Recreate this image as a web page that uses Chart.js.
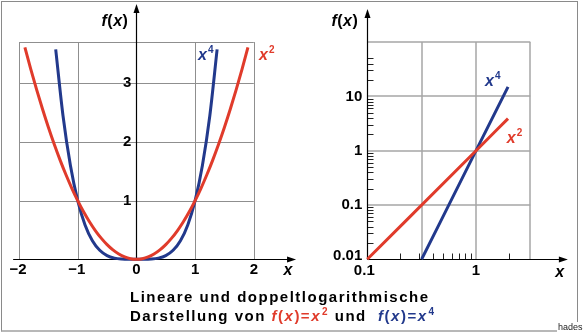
<!DOCTYPE html>
<html lang="de">
<head>
<meta charset="UTF-8">
<title>Lineare und doppeltlogarithmische Darstellung</title>
<script src="https://cdn.jsdelivr.net/npm/chart.js@4"></script>
<style>
  * { margin: 0; padding: 0; box-sizing: border-box; }
  body { width: 588px; height: 333px; background: #fff; position: relative; overflow: hidden;
         font-family: 'Liberation Sans', Arial, sans-serif; }
  #left { position: absolute; left: 0; top: 0; }
  #right { position: absolute; left: 300px; top: 0; }
  .frame { position: absolute; left: 1px; top: 1px; width: 577px; height: 331px;
           border: 1px solid #8a8a8a; border-bottom: 2px solid #b8b8b8; }
  .hades { position: absolute; left: 557px; top: 322px; font-size: 9px; background: #fff;
           color: #222; padding: 0 1px; line-height: 10px; }
  .title { position: absolute; left: 130px; font-size: 15px; font-weight: bold; letter-spacing: 1.5px;
           color: #000; white-space: pre; line-height: 17px; }
  .t1 { top: 288px; }
  .t2 { top: 307px; }
  .red { color: #e03b2b; }
  .blue { color: #22398c; }
  i { font-style: italic; }
  sup { font-size: 10px; vertical-align: 6px; line-height: 0; margin-left: 1px; }
</style>
</head>
<body>
<canvas id="left" width="300" height="290"></canvas>
<canvas id="right" width="288" height="290"></canvas>
<div class="frame"></div>
<div class="title t1">Lineare und doppeltlogarithmische</div>
<div class="title t2">Darstellung von <span class="red"><i>f</i>(<i>x</i>)=<i>x</i><sup>2</sup></span> und  <span class="blue"><i>f</i>(<i>x</i>)=<i>x</i><sup>4</sup></span></div>
<div class="hades">hades</div>

<script>
// values
const squareX = [-1.9, -1.8, -1.7, -1.6, -1.5, -1.4, -1.3, -1.2, -1.1, -1.0, -0.9, -0.8, -0.7, -0.6, -0.5, -0.4, -0.3, -0.2, -0.1, 0,
                 0.1, 0.2, 0.3, 0.4, 0.5, 0.6, 0.7, 0.8, 0.9, 1.0, 1.1, 1.2, 1.3, 1.4, 1.5, 1.6, 1.7, 1.8, 1.9];
const squareY = [3.61, 3.24, 2.89, 2.56, 2.25, 1.96, 1.69, 1.44, 1.21, 1.0, 0.81, 0.64, 0.49, 0.36, 0.25, 0.16, 0.09, 0.04, 0.01, 0,
                 0.01, 0.04, 0.09, 0.16, 0.25, 0.36, 0.49, 0.64, 0.81, 1.0, 1.21, 1.44, 1.69, 1.96, 2.25, 2.56, 2.89, 3.24, 3.61];
const quarticX = [-1.375, -1.25, -1.125, -1.0, -0.875, -0.75, -0.625, -0.5, -0.375, -0.25, -0.125, 0,
                  0.125, 0.25, 0.375, 0.5, 0.625, 0.75, 0.875, 1.0, 1.125, 1.25, 1.375];
const quarticY = [3.575, 2.441, 1.602, 1.0, 0.586, 0.316, 0.153, 0.063, 0.020, 0.004, 0.0002, 0,
                  0.0002, 0.004, 0.020, 0.063, 0.153, 0.316, 0.586, 1.0, 1.602, 2.441, 3.575];

const logSquareX = [0.1, 1, 1.97];
const logSquareY = [0.01, 1, 3.9];
const logQuarticX = [0.316, 1, 1.97];
const logQuarticY = [0.01, 1, 15];

// ticks and grid
const linXTicks = [-2, -1, 0, 1, 2];
const linXLabels = ['\u22122', '\u22121', '0', '1', '2'];
const linYTicks = [1, 2, 3];
const linGridX = [-2, -1, 1, 2];
const linGridY = [1, 2, 3, 3.7];

const logXTicks = [0.1, 1];
const logXLabels = ['0.1', '1'];
const logYTicks = [0.01, 0.1, 1, 10];
const logYLabels = ['0.01', '0.1', '1', '10'];
const logGridX = [0.316, 1, 3.16];
const logGridY = [0.1, 1, 10, 100];
const logXMinor = [0.2, 0.3, 0.4, 0.5, 0.6, 0.7, 0.8, 0.9, 2];
const logYMinor = [0.02, 0.03, 0.04, 0.05, 0.06, 0.07, 0.08, 0.09,
                   0.2, 0.3, 0.4, 0.5, 0.6, 0.7, 0.8, 0.9,
                   2, 3, 4, 5, 6, 7, 8, 9,
                   20, 30, 40, 50];

const RED = '#e03b2b';
const BLUE = '#22398c';
const FONT = "'Liberation Sans', Arial, sans-serif";

function pts(xs, ys) {
  return xs.map((x, i) => ({ x: x, y: ys[i] }));
}

function line(ctx, x0, y0, x1, y1) {
  ctx.beginPath();
  ctx.moveTo(x0, y0);
  ctx.lineTo(x1, y1);
  ctx.stroke();
}

function arrow(ctx, x0, y0, x1, y1) {
  ctx.strokeStyle = '#000';
  ctx.fillStyle = '#000';
  ctx.lineWidth = 1.2;
  const a = Math.atan2(y1 - y0, x1 - x0);
  const len = 9, w = 3;
  line(ctx, x0, y0, x1 - Math.cos(a) * (len - 2), y1 - Math.sin(a) * (len - 2));
  ctx.beginPath();
  ctx.moveTo(x1, y1);
  ctx.lineTo(x1 - Math.cos(a) * len - Math.sin(a) * w, y1 - Math.sin(a) * len + Math.cos(a) * w);
  ctx.lineTo(x1 - Math.cos(a) * len + Math.sin(a) * w, y1 - Math.sin(a) * len - Math.cos(a) * w);
  ctx.closePath();
  ctx.fill();
}

// draw "f(x)" with italic letters
function fx(ctx, right, cy) {
  const parts = [['f', true], ['(', false], ['x', true], [')', false]];
  let total = 0;
  parts.forEach(p => {
    ctx.font = (p[1] ? 'italic ' : '') + 'bold 16px ' + FONT;
    total += ctx.measureText(p[0]).width + 0.5;
  });
  let x = right - total;
  ctx.fillStyle = '#000';
  ctx.textAlign = 'left';
  ctx.textBaseline = 'middle';
  parts.forEach(p => {
    ctx.font = (p[1] ? 'italic ' : '') + 'bold 16px ' + FONT;
    ctx.fillText(p[0], x, cy);
    x += ctx.measureText(p[0]).width + 0.5;
  });
}

function power(ctx, text, exp, left, base, color) {
  ctx.fillStyle = color;
  ctx.textAlign = 'left';
  ctx.textBaseline = 'alphabetic';
  ctx.font = 'italic bold 16px ' + FONT;
  ctx.fillText(text, left, base);
  const w = ctx.measureText(text).width;
  ctx.font = 'bold 10px ' + FONT;
  ctx.fillText(exp, left + w + 1, base - 7);
}

function label(ctx, text, x, y, align) {
  ctx.fillStyle = '#000';
  ctx.font = 'bold 15px ' + FONT;
  ctx.textAlign = align;
  ctx.textBaseline = 'middle';
  ctx.fillText(text, x, y);
}

function axisX(ctx, x, y) {
  ctx.fillStyle = '#000';
  ctx.font = 'italic bold 16px ' + FONT;
  ctx.textAlign = 'center';
  ctx.textBaseline = 'middle';
  ctx.fillText('x', x, y);
}

const linDecor = {
  id: 'linDecor',
  beforeDatasetsDraw(chart) {
    const { ctx, scales: { x, y } } = chart;
    ctx.save();
    const x0 = x.getPixelForValue(-2), x1 = x.getPixelForValue(2);
    const y0 = y.getPixelForValue(0), y1 = y.getPixelForValue(3.7);
    ctx.strokeStyle = '#8f8f8f';
    ctx.lineWidth = 1;
    linGridY.forEach(v => {
      const py = Math.round(y.getPixelForValue(v)) + 0.5;
      line(ctx, x0, py, x1, py);
    });
    linGridX.forEach(v => {
      const px = Math.round(x.getPixelForValue(v)) + 0.5;
      line(ctx, px, y0, px, y1);
    });
    const ay = Math.round(y0) + 0.5, ax = Math.round(x.getPixelForValue(0)) + 0.5;
    arrow(ctx, x.getPixelForValue(-2.1), ay, x.getPixelForValue(2.72), ay);
    arrow(ctx, ax, ay, ax, y.getPixelForValue(4.35));
    ctx.restore();
  },
  afterDatasetsDraw(chart) {
    const { ctx, scales: { x, y } } = chart;
    ctx.save();
    const y0 = y.getPixelForValue(0), ax = x.getPixelForValue(0);
    linXTicks.forEach((v, i) => label(ctx, linXLabels[i], x.getPixelForValue(v) + (v < 0 ? -1 : 0), y0 + 11, 'center'));
    linYTicks.forEach(v => label(ctx, String(v), ax - 5, y.getPixelForValue(v), 'right'));
    axisX(ctx, x.getPixelForValue(2.58), y0 + 11);
    fx(ctx, ax - 8, 22);
    power(ctx, 'x', '4', 198, 60, BLUE);
    power(ctx, 'x', '2', 259, 60, RED);
    ctx.restore();
  }
};

const logDecor = {
  id: 'logDecor',
  beforeDatasetsDraw(chart) {
    const { ctx, scales: { x, y } } = chart;
    ctx.save();
    const x0 = x.getPixelForValue(0.1), x1 = x.getPixelForValue(3.16);
    const y0 = y.getPixelForValue(0.01), y1 = y.getPixelForValue(100);
    ctx.strokeStyle = '#a6a6a6';
    ctx.lineWidth = 1.5;
    logGridY.forEach(v => {
      const py = Math.round(y.getPixelForValue(v));
      line(ctx, x0, py, x1, py);
    });
    logGridX.forEach(v => {
      const px = Math.round(x.getPixelForValue(v));
      line(ctx, px, y0, px, y1);
    });
    const ay = Math.round(y0) + 0.5, ax = Math.round(x0) + 0.5;
    ctx.strokeStyle = '#222';
    ctx.lineWidth = 1;
    logXMinor.forEach(v => {
      const px = Math.round(x.getPixelForValue(v)) + 0.5;
      line(ctx, px, ay, px, ay - 6);
    });
    logYMinor.forEach(v => {
      const py = Math.round(y.getPixelForValue(v)) + 0.5;
      line(ctx, ax, py, ax + 6, py);
    });
    arrow(ctx, ax, ay, x.getPixelForValue(7.0), ay);
    arrow(ctx, ax, ay, ax, y.getPixelForValue(407));
    ctx.restore();
  },
  afterDatasetsDraw(chart) {
    const { ctx, scales: { x, y } } = chart;
    ctx.save();
    const y0 = y.getPixelForValue(0.01), ax = x.getPixelForValue(0.1);
    logXTicks.forEach((v, i) => label(ctx, logXLabels[i], x.getPixelForValue(v) + (i === 0 ? -3 : 0), y0 + 12, 'center'));
    logYTicks.forEach((v, i) => label(ctx, logYLabels[i], ax - 5, y.getPixelForValue(v) - (i === 0 ? 3 : 0), 'right'));
    axisX(ctx, x.getPixelForValue(5.9), y0 + 13);
    fx(ctx, ax - 9, 22);
    power(ctx, 'x', '4', x.getPixelForValue(1.21), 86, BLUE);
    power(ctx, 'x', '2', x.getPixelForValue(1.92), 143, RED);
    ctx.restore();
  }
};

function lineSet(data, color) {
  return {
    data: data,
    showLine: true,
    borderColor: color,
    borderWidth: 3,
    pointRadius: 0,
    tension: 0.4,
    cubicInterpolationMode: 'monotone',
    fill: false
  };
}

const hidden = { display: false, ticks: { display: false }, grid: { display: false } };

new Chart(document.getElementById('left'), {
  type: 'scatter',
  data: {
    datasets: [
      lineSet(pts(squareX, squareY), RED),
      lineSet(pts(quarticX, quarticY), BLUE)
    ]
  },
  options: {
    responsive: false,
    animation: false,
    devicePixelRatio: 1,
    layout: { padding: 0 },
    plugins: { legend: { display: false }, tooltip: { enabled: false } },
    scales: {
      x: Object.assign({ type: 'linear', min: -2.324, max: 2.787, bounds: 'data' }, hidden),
      y: Object.assign({ type: 'linear', min: -0.523, max: 4.417, bounds: 'data' }, hidden)
    }
  },
  plugins: [linDecor]
});

new Chart(document.getElementById('right'), {
  type: 'scatter',
  data: {
    datasets: [
      Object.assign(lineSet(pts(logSquareX, logSquareY), RED), { tension: 0 }),
      Object.assign(lineSet(pts(logQuarticX, logQuarticY), BLUE), { tension: 0 })
    ]
  },
  options: {
    responsive: false,
    animation: false,
    devicePixelRatio: 1,
    layout: { padding: 0 },
    plugins: { legend: { display: false }, tooltip: { enabled: false } },
    scales: {
      x: Object.assign({ type: 'logarithmic', min: 0.02404, max: 10.72, bounds: 'data' }, hidden),
      y: Object.assign({ type: 'logarithmic', min: 0.00272, max: 595.7, bounds: 'data' }, hidden)
    }
  },
  plugins: [logDecor]
});
</script>
</body>
</html>
